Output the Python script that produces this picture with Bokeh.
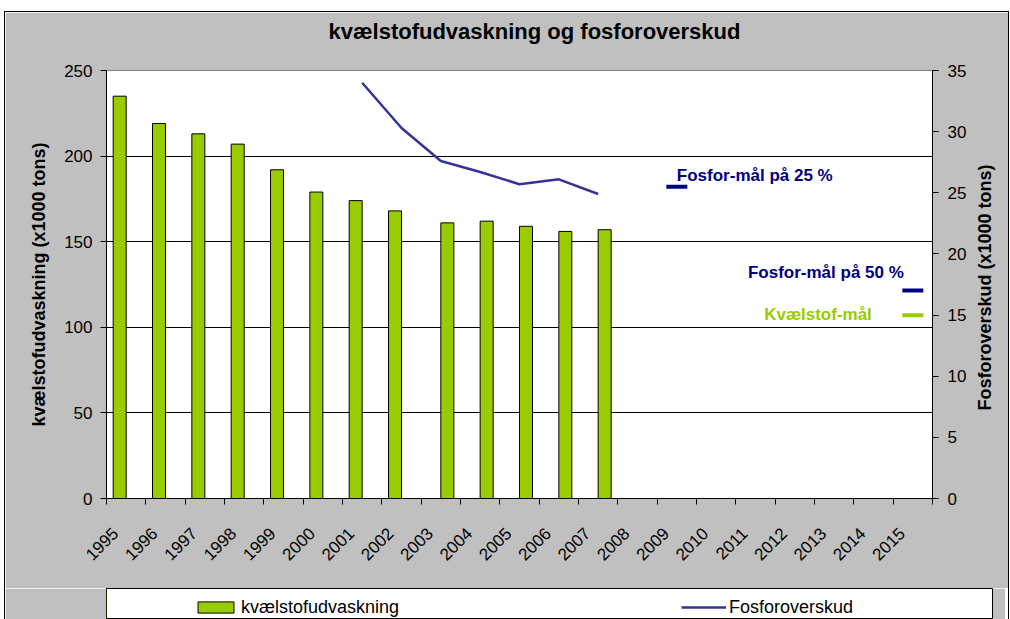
import math
import numpy as np
from bokeh.plotting import figure
from bokeh.models import (Range1d, LinearAxis, FixedTicker, ColumnDataSource,
                          Label, Legend, LegendItem)
from bokeh.layouts import column
from bokeh.transform import dodge
from bokeh.embed import file_html
from bokeh.resources import INLINE

# ---------------- data ----------------
years = [str(y) for y in range(1995, 2016)]

n_years_a = ["1995", "1996", "1997", "1998", "1999", "2000", "2001", "2002"]
n_vals_a = [235, 219, 213, 207, 192, 179, 174, 168]
n_years_b = ["2003", "2004", "2005", "2006", "2007"]
n_vals_b = [161, 162, 159, 156, 157]

p_years = ["2001", "2002", "2003", "2004", "2005", "2006", "2007"]
p_vals = [34.0, 30.3, 27.6, 26.7, 25.7, 26.1, 24.9]

goal_p25_year = ["2009"]
goal_p25 = [25.5]
goal_p50_year = ["2015"]
goal_p50 = [17.0]
goal_n_year = ["2015"]
goal_n = [107]

left_ticks = [0, 50, 100, 150, 200, 250]
right_ticks = [0, 5, 10, 15, 20, 25, 30, 35]

title_text = "kvælstofudvaskning og fosforoverskud"
left_title = "kvælstofudvaskning (x1000 tons)"
right_title = "Fosforoverskud (x1000 tons)"

# ---------------- style ----------------
FONT = "Liberation Sans"
GRAY = "#C0C0C0"
GREEN = "#99CC00"
LINEBLUE = "#333399"
NAVY = "#000080"

pos = {y: i for i, y in enumerate(years)}

def xs(ys):
    return [pos[y] for y in ys]

src_a = ColumnDataSource(dict(x=xs(n_years_a), top=n_vals_a))
src_b = ColumnDataSource(dict(x=xs(n_years_b), top=n_vals_b))
src_p = ColumnDataSource(dict(x=xs(p_years), y=p_vals))

x_lo, x_hi = -0.5, len(years) - 0.5

p = figure(frame_width=826, frame_height=428,
           min_border_left=101, min_border_right=73, min_border_top=58, min_border_bottom=90,
           x_range=Range1d(x_lo, x_hi), y_range=Range1d(0, 250),
           toolbar_location=None, output_backend="svg",
           background_fill_color="white", border_fill_color=GRAY,
           outline_line_color="#808080", outline_line_width=1)
p.extra_y_ranges = {"p": Range1d(0, 35)}

xa = p.xaxis[0]   # the bottom axis (grab it before anything else is added)
ya = p.yaxis[0]

# empty spacer above the frame; the title sits above it
spacer = LinearAxis(ticker=FixedTicker(ticks=[], minor_ticks=[]), axis_line_color=None,
                    major_tick_out=0, major_tick_in=0, minor_tick_out=0, minor_tick_in=0,
                    major_label_standoff=0, major_label_text_font_size="1px",
                    axis_label=" ", axis_label_standoff=23,
                    axis_label_text_font_size="1px")
p.add_layout(spacer, "above")

p.title.text = title_text
p.title.text_font = FONT
p.title.text_font_size = "22px"
p.title.text_font_style = "bold"
p.title.text_color = "black"
p.title.align = "left"
p.title.offset = 222
p.title.standoff = 0
p.title.vertical_align = "bottom"

# grid
p.xgrid.visible = False
p.ygrid.ticker = FixedTicker(ticks=left_ticks[1:-1])
p.ygrid.grid_line_color = "black"
p.ygrid.grid_line_width = 1

# x axis (labels sit left of the category centre, ticks at category borders)
label_pos = [round(i - 0.28, 2) for i in range(len(years))]
xa.ticker = FixedTicker(ticks=label_pos,
                        minor_ticks=[i - 0.5 for i in range(len(years) + 1)])
xa.major_label_overrides = {label_pos[i]: y for i, y in enumerate(years)}
xa.major_label_orientation = math.pi / 4
xa.major_tick_out = 0
xa.major_tick_in = 0
xa.minor_tick_out = 6
xa.minor_tick_in = 0
xa.minor_tick_line_color = "black"
xa.axis_line_color = "black"
xa.major_label_standoff = 26
xa.major_label_text_font = FONT
xa.major_label_text_font_size = "17px"
xa.major_label_text_color = "black"

def style_y(ax):
    ax.major_tick_out = 6
    ax.major_tick_in = 0
    ax.minor_tick_out = 0
    ax.minor_tick_in = 0
    ax.major_tick_line_color = "black"
    ax.axis_line_color = "black"
    ax.major_label_standoff = 8
    ax.major_label_text_font = FONT
    ax.major_label_text_font_size = "17px"
    ax.major_label_text_color = "black"
    ax.axis_label_text_font = FONT
    ax.axis_label_text_font_size = "18px"
    ax.axis_label_text_font_style = "bold"
    ax.axis_label_text_color = "black"
    ax.axis_label_standoff = 12

ya.ticker = FixedTicker(ticks=left_ticks, minor_ticks=[])
ya.axis_label = left_title
style_y(ya)

# right axis: ticks and numbers
ra = LinearAxis(y_range_name="p", ticker=FixedTicker(ticks=right_ticks, minor_ticks=[]))
style_y(ra)
ra.major_label_standoff = 9
p.add_layout(ra, "right")

# right axis title, reading bottom-to-top; a rotated tick label starts at its tick,
# so the tick is placed where the text begins
right_title_start = 7.2
ra2 = LinearAxis(y_range_name="p",
                 ticker=FixedTicker(ticks=[right_title_start], minor_ticks=[]),
                 major_label_overrides={right_title_start: right_title},
                 major_label_orientation=math.pi / 2,
                 axis_line_color=None, major_tick_line_color=None,
                 major_tick_out=0, major_tick_in=0, minor_tick_out=0, minor_tick_in=0,
                 major_label_standoff=16)
ra2.major_label_text_font = FONT
ra2.major_label_text_font_size = "18px"
ra2.major_label_text_font_style = "bold"
ra2.major_label_text_color = "black"
p.add_layout(ra2, "right")

# bars (two series: left and right slot of the cluster)
bar_kw = dict(width=0.33, fill_color=GREEN, line_color="black", line_width=1)
p.vbar(x=dodge("x", -0.165), top="top", source=src_a, **bar_kw)
p.vbar(x=dodge("x", 0.165), top="top", source=src_b, **bar_kw)

# phosphorus line
line_kw = dict(line_color=LINEBLUE, line_width=2.5)
p.line(x="x", y="y", source=src_p, y_range_name="p", **line_kw)

# goals
p.scatter(x=xs(goal_p25_year), y=goal_p25, marker="dash", size=21, line_width=4,
          line_color=NAVY, y_range_name="p")
p.scatter(x=xs(goal_p50_year), y=goal_p50, marker="dash", size=21, line_width=4,
          line_color=NAVY, y_range_name="p")
p.scatter(x=xs(goal_n_year), y=goal_n, marker="dash", size=21, line_width=4,
          line_color=GREEN)

def lab(x, y, text, color, xo, yo, align, rng="default"):
    p.add_layout(Label(x=x, y=y, y_range_name=rng, text=text, x_offset=xo, y_offset=yo,
                       text_align=align, text_baseline="alphabetic", text_font=FONT,
                       text_font_size="17px", text_font_style="bold", text_color=color))

lab(xs(goal_p25_year)[0], goal_p25[0], "Fosfor-mål på 25 %", NAVY, 0, 11, "left", "p")
lab(xs(goal_p50_year)[0], goal_p50[0], "Fosfor-mål på 50 %", NAVY, -9, 18, "right", "p")
lab(xs(goal_n_year)[0], goal_n[0], "Kvælstof-mål", GREEN, -41, 1, "right")

# ---------------- legend strip (white box below the chart) ----------------
p2 = figure(frame_width=886, frame_height=31,
            min_border_left=101, min_border_right=13, min_border_top=0, min_border_bottom=0,
            x_range=Range1d(100, 101), y_range=Range1d(0, 1),
            x_axis_type=None, y_axis_type=None,
            toolbar_location=None, output_backend="svg",
            background_fill_color="white", border_fill_color=GRAY,
            outline_line_color="black", outline_line_width=1)
# legend glyph sources: same data, drawn outside this strip's x range
rb2 = p2.vbar(x="x", top="top", source=src_a, **bar_kw)
rl2 = p2.line(x="x", y="y", source=src_p, **line_kw)
legend = Legend(items=[LegendItem(label="kvælstofudvaskning", renderers=[rb2]),
                       LegendItem(label="Fosforoverskud", renderers=[rl2])],
                orientation="horizontal", location=(87, 1), padding=0, margin=0,
                spacing=240, glyph_width=45, glyph_height=14, label_width=200,
                label_height=22, label_standoff=3,
                label_text_font=FONT, label_text_font_size="18px",
                label_text_color="black", border_line_alpha=0, background_fill_alpha=0)
p2.add_layout(legend)

layout = column(p, p2, spacing=0)
layout.margin = (12, 0, 0, 5)
layout.styles = {"outline": "1px solid black"}

open("out.html", "w").write(file_html(layout, INLINE))
